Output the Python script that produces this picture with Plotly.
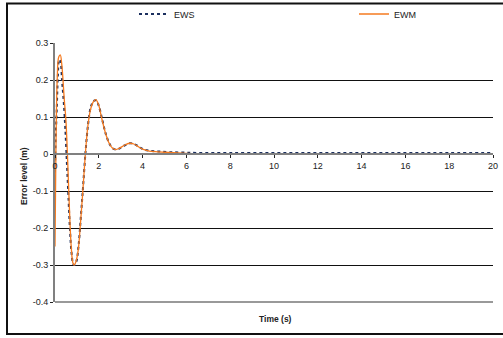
import plotly.graph_objects as go

# ---- data ----
t_ewm = [0, 0.04, 0.1, 0.17, 0.24, 0.32, 0.42, 0.5, 0.58, 0.66, 0.74, 0.82, 0.88, 0.96,
         1.06, 1.16, 1.26, 1.38, 1.5, 1.62, 1.74, 1.86, 1.98, 2.12, 2.28, 2.45, 2.62,
         2.78, 2.95, 3.15, 3.4, 3.6, 3.8, 4.0, 4.3, 4.7, 5.2, 5.8, 6.5, 8, 10, 12, 14,
         16, 18, 20]
ewm = [-0.25, 0.0, 0.2, 0.262, 0.268, 0.235, 0.15, 0.09, -0.02, -0.15, -0.25, -0.295,
       -0.3, -0.29, -0.26, -0.19, -0.11, -0.005, 0.075, 0.12, 0.14, 0.147, 0.135, 0.1,
       0.062, 0.032, 0.016, 0.012, 0.016, 0.023, 0.029, 0.027, 0.02, 0.013, 0.008,
       0.006, 0.004, 0.002, 0.0, 0.0, 0.0, 0.0, 0.0, 0.0, 0.0, 0.0]

t_ews = [0, 0.03, 0.08, 0.13, 0.19, 0.25, 0.32, 0.4, 0.47, 0.54, 0.61, 0.68, 0.76, 0.84,
         0.9, 0.98, 1.08, 1.18, 1.28, 1.4, 1.52, 1.64, 1.76, 1.88, 2.0, 2.15, 2.3, 2.47,
         2.64, 2.8, 2.97, 3.17, 3.42, 3.62, 3.82, 4.02, 4.3, 4.7, 5.2, 5.8, 6.5, 8, 10,
         12, 14, 16, 18, 20]
ews = [-0.05, 0.04, 0.12, 0.21, 0.255, 0.25, 0.2, 0.14, 0.07, -0.02, -0.11, -0.2, -0.27,
       -0.298, -0.3, -0.29, -0.245, -0.17, -0.09, 0.01, 0.085, 0.128, 0.143, 0.145, 0.13,
       0.095, 0.058, 0.03, 0.015, 0.012, 0.016, 0.023, 0.029, 0.027, 0.02, 0.013, 0.009,
       0.007, 0.005, 0.004, 0.003, 0.003, 0.003, 0.003, 0.003, 0.003, 0.003, 0.003]

x_ticks = [0, 2, 4, 6, 8, 10, 12, 14, 16, 18, 20]
y_ticks = [-0.4, -0.3, -0.2, -0.1, 0, 0.1, 0.2, 0.3]
y_labels = ["-0.4", "-0.3", "-0.2", "-0.1", "0", "0.1", "0.2", "0.3"]

FONT = "Liberation Sans, Arial, sans-serif"
TXT = "#222"

fig = go.Figure()
fig.add_trace(go.Scatter(x=t_ews, y=ews, name="EWS", mode="lines", legend="legend",
                         line=dict(color="#1b2f5e", width=2, dash="dot", shape="spline")))
fig.add_trace(go.Scatter(x=t_ewm, y=ewm, name="EWM", mode="lines", legend="legend2",
                         line=dict(color="#f57a1f", width=1.3, shape="spline")))

W, H = 503, 338
L, R, T, B = 55, 10, 43, 36
pw, ph = W - L - R, H - T - B

def px(xp):
    return (xp - L) / pw

def py(yp):
    return (H - B - yp) / ph

leg_common = dict(orientation="h", yanchor="middle", xanchor="left",
                  font=dict(size=9, color=TXT), bgcolor="rgba(0,0,0,0)",
                  itemwidth=30)

fig.update_layout(
    width=W, height=H,
    margin=dict(l=L, r=R, t=T, b=B, autoexpand=False),
    paper_bgcolor="white", plot_bgcolor="white",
    font=dict(family=FONT, size=9, color=TXT),
    showlegend=True,
    legend=dict(x=px(134), y=py(14), **leg_common),
    legend2=dict(x=px(354), y=py(14), **leg_common),
    xaxis=dict(range=[0, 20], tickvals=x_ticks, showgrid=False, zeroline=False,
               anchor="free", position=py(154), showline=True, linecolor="#808080",
               linewidth=1.5, ticks="outside", ticklen=3, tickcolor=TXT,
               tickfont=dict(size=9, color=TXT)),
    yaxis=dict(range=[-0.4, 0.3], tickvals=y_ticks, ticktext=y_labels, showgrid=True,
               gridcolor="#111", gridwidth=1, zeroline=False, showline=True,
               linecolor="#808080", linewidth=2, ticks="outside", ticklen=3,
               tickcolor=TXT, tickfont=dict(size=9, color=TXT)),
)

fig.add_annotation(text="<b>Error level (m)</b>", xref="paper", yref="paper",
                   x=px(24), y=py(176), xanchor="center", yanchor="middle",
                   textangle=-90, showarrow=False, font=dict(size=8.5, color=TXT))
fig.add_annotation(text="<b>Time (s)</b>", xref="paper", yref="paper",
                   x=px(275), y=py(319), xanchor="center", yanchor="middle",
                   showarrow=False, font=dict(size=8.5, color=TXT))

# chart border
fig.add_shape(type="rect", xref="paper", yref="paper",
              x0=px(7), x1=px(520), y0=py(334), y1=py(3.5),
              line=dict(color="#111", width=2), layer="below")
# grey bottom line
fig.add_shape(type="line", xref="paper", yref="paper", x0=0, x1=1, y0=0, y1=0,
              line=dict(color="#777", width=1.5))

fig.write_html("out.html")
